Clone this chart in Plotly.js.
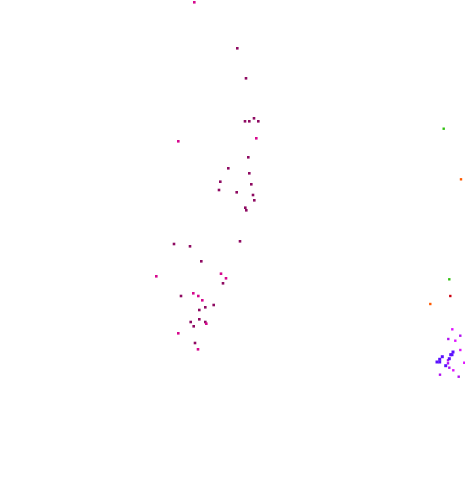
<!DOCTYPE html>
<html>
<head>
<meta charset="utf-8">
<script src="https://cdn.plot.ly/plotly-3.0.1.min.js"></script>
<style>html,body{margin:0;padding:0;background:#fff;}#chart{width:465px;height:488px;}</style>
</head>
<body>
<div id="chart"></div>
<script>
// Dark magenta series
var darkX = [237.3, 246, 245, 249.3, 254, 258.3, 248.3, 228.3, 249.3, 220.3, 251.3, 219, 236.7, 253, 254.3, 245.3, 246.3, 240, 174, 190, 201.3, 223, 181, 213.7, 205.3, 199.3, 199.3, 190.7, 193.7, 195, 205.3];
var darkY = [48.3, 78.3, 121.3, 121.3, 118.3, 121.3, 157.3, 168.3, 173.3, 181.7, 184.3, 190, 192.3, 195, 200.3, 207.7, 210.3, 241.3, 244, 246.3, 261.3, 283.3, 296, 305, 307.3, 310, 319.3, 322, 326.3, 343, 322];
// Bright magenta series
var pinkX = [194.3, 178.3, 256.3, 156.3, 226, 193.3, 198.3, 202.3, 206.3, 178.3, 198, 221];
var pinkY = [2.3, 141.3, 138.3, 276.3, 278.3, 293.3, 296, 300.3, 323.7, 333.3, 349.3, 273.7];
// Violet series
var violetX = [460.3, 448.3, 448, 448, 449.3, 440, 458.7];
var violetY = [335.7, 339, 360.3, 363.3, 367.7, 374.7, 376.7];
// Blue series
var blueX = [453, 450.7, 452, 442.3, 439.7, 437, 439.7, 445.7, 449.3];
var blueY = [352, 354.7, 354.7, 356.7, 359.3, 362, 362, 365.7, 358.7];
// Light magenta series
var lightX = [452.3, 455.3, 460.3, 464.3, 453.3];
var lightY = [329.3, 340.7, 350, 362.7, 370.3];
// Green series
var greenX = [443.7, 449.3];
var greenY = [128.7, 279.3];
// Orange series
var orangeX = [461, 430.3];
var orangeY = [179.3, 304];
// Red series
var redX = [450.3];
var redY = [296];

function tr(x, y, color, size) {
  return {x: x, y: y, type: 'scatter', mode: 'markers', hoverinfo: 'none',
    marker: {symbol: 'square', size: size, color: color, line: {width: 0}}};
}
var data = [
  tr(darkX, darkY, '#8e0a62', 2.6),
  tr(pinkX, pinkY, '#d6088e', 2.6),
  tr(violetX, violetY, '#b010f0', 2.4),
  tr(blueX, blueY, '#5a10ff', 3),
  tr(lightX, lightY, '#e010ff', 2.4),
  tr(greenX, greenY, '#30c010', 2.4),
  tr(orangeX, orangeY, '#ff5a00', 2.4),
  tr(redX, redY, '#cc0010', 2.4)
];
var layout = {
  width: 465, height: 488,
  margin: {l: 0, r: 0, t: 0, b: 0},
  paper_bgcolor: '#ffffff', plot_bgcolor: '#ffffff',
  showlegend: false,
  xaxis: {range: [0, 465], visible: false, fixedrange: true},
  yaxis: {range: [488, 0], visible: false, fixedrange: true}
};
Plotly.newPlot('chart', data, layout, {displayModeBar: false, staticPlot: true});
</script>
</body>
</html>
